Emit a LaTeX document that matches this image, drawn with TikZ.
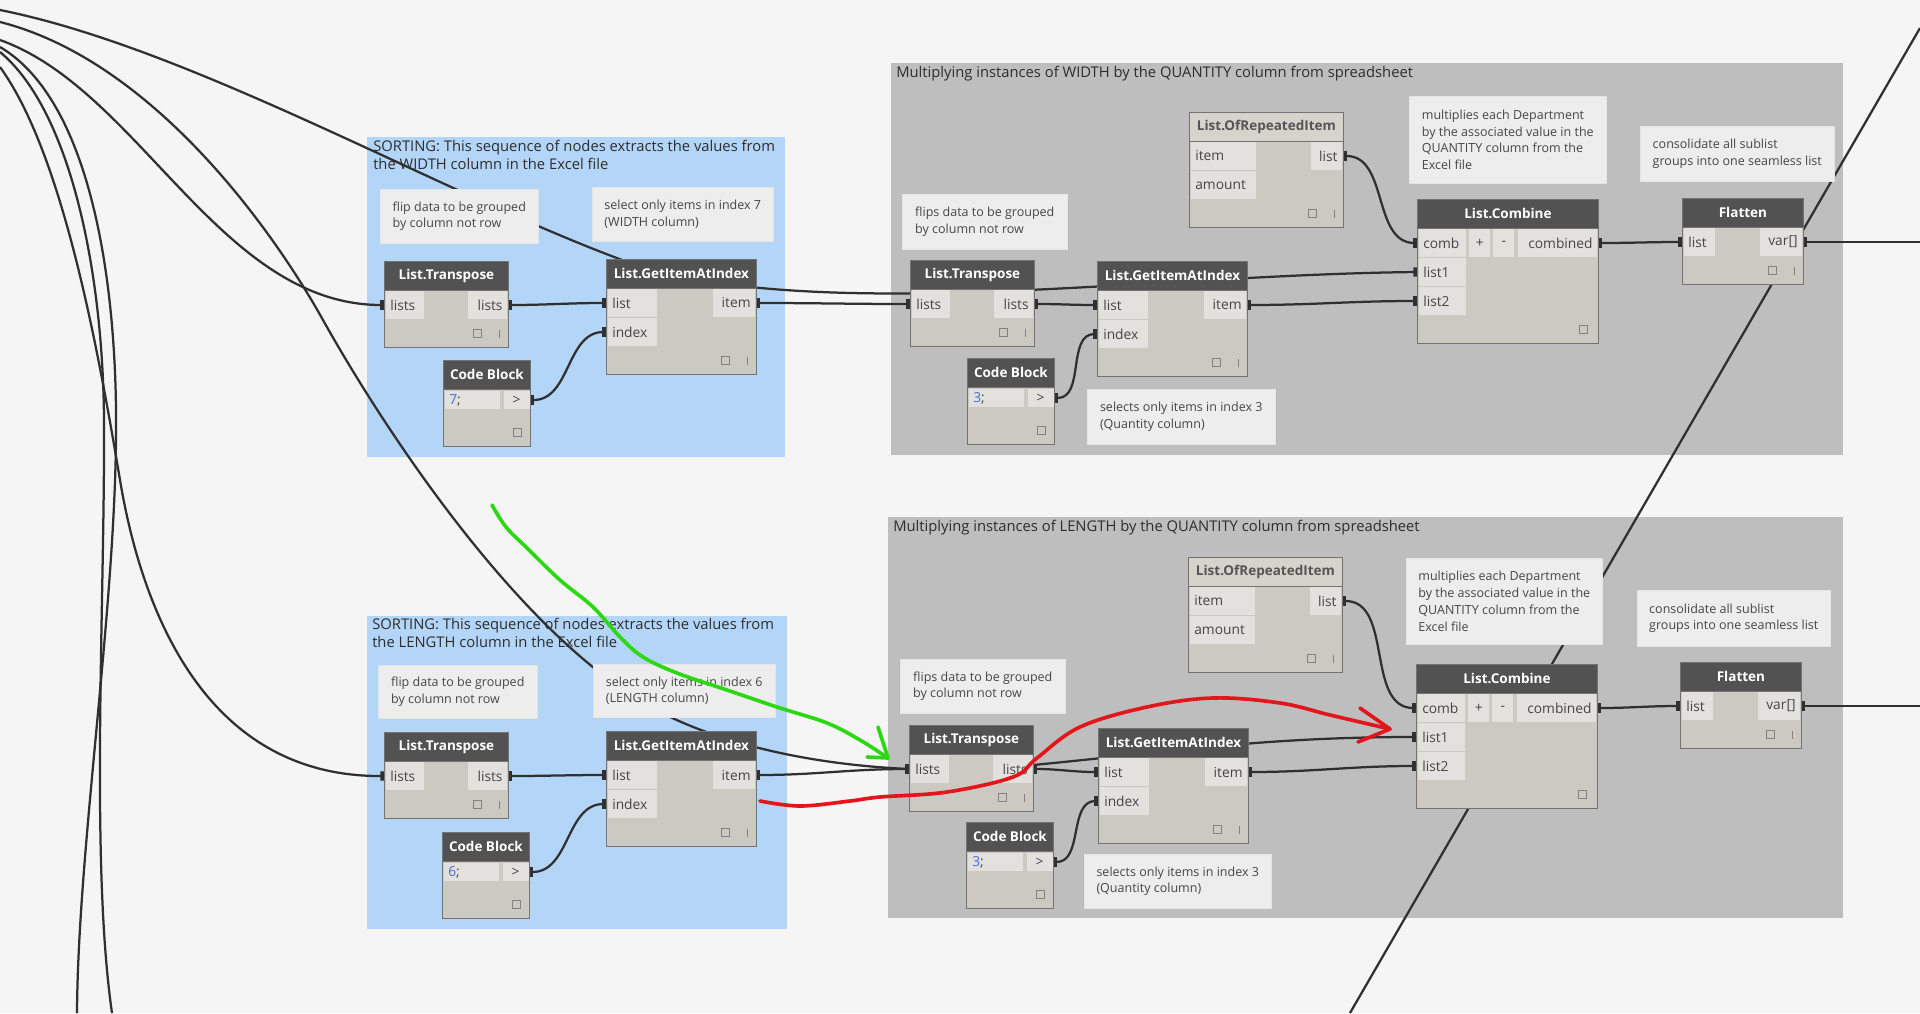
\documentclass[tikz,border=0pt]{standalone}
\usepackage{fontspec}
\setmainfont{Open Sans}
\usetikzlibrary{arrows.meta, positioning}

\definecolor{canvas}{RGB}{245,245,245}
\definecolor{grpblue}{RGB}{179,213,247}
\definecolor{grpgray}{RGB}{190,190,190}
\definecolor{notefill}{RGB}{237,237,237}
\definecolor{headdark}{RGB}{82,82,82}
\definecolor{headlight}{RGB}{214,211,205}
\definecolor{headtxt}{RGB}{85,85,85}
\definecolor{bodyfill}{RGB}{204,201,195}
\definecolor{portfill}{RGB}{227,225,221}
\definecolor{nodeline}{RGB}{115,115,115}
\definecolor{iconc}{RGB}{130,130,130}
\definecolor{wirec}{RGB}{48,48,48}
\definecolor{txtc}{RGB}{70,70,70}
\definecolor{titlec}{RGB}{45,45,45}
\definecolor{codeblue}{RGB}{70,110,215}
\definecolor{markgreen}{RGB}{45,215,20}
\definecolor{markred}{RGB}{228,22,28}

\newlength\pxl
\setlength\pxl{0.025cm}

\newcommand{\titlefont}{\fontsize{10.5}{12.8}\selectfont}
\newcommand{\notefont}{\fontsize{8.9}{11.9}\selectfont}
\newcommand{\headfont}{\fontsize{9.6}{11}\selectfont\bfseries}
\newcommand{\portfont}{\fontsize{9.8}{11}\selectfont}

\pgfdeclarelayer{bg}
\pgfdeclarelayer{wires}
\pgfsetlayers{bg,wires,main}

\tikzset{port/.tip={Rectangle[length=0.9mm, width=2.3mm]}}

% node body with its title bar: [head style] name, x, y, width, height, title
\newcommand{\dnode}[7][dhead]{%
  \node[dbody, minimum width=#5*\pxl, minimum height=#6*\pxl] (#2) at (#3,#4) {};
  \node[#1, minimum width=#5*\pxl] (#2-head) at (#3,#4) {#7};}

% ports: node, port, row, box width, label
\newcommand{\din}[5]{%
  \node[dport, anchor=west] (#1-#2) at ([shift={(2,{15+29*#3})}]#1.north west)
    {\makebox[\dimexpr#4\pxl-8\pxl\relax][l]{#5}};
  \coordinate (#1-#2-p) at ([shift={(0,{15+29*#3})}]#1.north west);}
\newcommand{\dout}[5]{%
  \node[dport, anchor=east] (#1-#2) at ([shift={(-2,{15+29*#3})}]#1.north east)
    {\makebox[\dimexpr#4\pxl-8\pxl\relax][r]{#5}};
  \coordinate (#1-#2-p) at ([shift={(0,{15+29*#3})}]#1.north east);}

% footer icons
\newcommand{\dicons}[1]{%
  \node[dsq] at ([shift={(-31,-14)}]#1.south east) {};
  \draw[dicon] ([shift={(-9,-18)}]#1.south east) -- ([shift={(-9,-10)}]#1.south east);}

\newcommand{\dtranspose}[3]{%
  \dnode{#1}{#2}{#3}{124}{86}{List.Transpose}
  \din{#1}{i1}{1}{38}{lists}
  \dout{#1}{o1}{1}{39}{lists}
  \dicons{#1}}

\newcommand{\dgetitem}[3]{%
  \dnode{#1}{#2}{#3}{150}{115}{List.GetItemAtIndex}
  \din{#1}{i1}{1}{49}{list}
  \din{#1}{i2}{2}{49}{index}
  \dout{#1}{o1}{1}{42}{item}
  \dicons{#1}}

\newcommand{\drepeat}[3]{%
  \dnode[dheadpale]{#1}{#2}{#3}{154}{115}{List.OfRepeatedItem}
  \din{#1}{i1}{1}{65}{item}
  \din{#1}{i2}{2}{65}{amount}
  \dout{#1}{o1}{1}{31}{list}
  \dicons{#1}}

\newcommand{\dcombine}[3]{%
  \dnode{#1}{#2}{#3}{181}{144}{List.Combine}
  \din{#1}{i1}{1}{47}{comb}
  \din{#1}{i2}{2}{47}{list1}
  \din{#1}{i3}{3}{47}{list2}
  \node[dport, anchor=west] at ([shift={(52,44)}]#1.north west) {\makebox[13\pxl]{+}};
  \node[dport, anchor=west] at ([shift={(76,44)}]#1.north west) {\makebox[13\pxl]{-}};
  \dout{#1}{o1}{1}{79}{combined}
  \node[dsq] at ([shift={(-15,-14)}]#1.south east) {};}

\newcommand{\dflatten}[3]{%
  \dnode{#1}{#2}{#3}{121}{86}{Flatten}
  \din{#1}{i1}{1}{31}{list}
  \dout{#1}{o1}{1}{42}{var[]}
  \dicons{#1}}

\newcommand{\dcode}[4]{%
  \dnode{#1}{#2}{#3}{87}{86}{Code Block}
  \node[dcodeval, anchor=west] (#1-val) at ([shift={(2,40)}]#1.north west)
    {\makebox[47\pxl][l]{\textcolor{codeblue}{#4};}};
  \node[dcodeval, anchor=east] (#1-gt) at ([shift={(-1,40)}]#1.north east)
    {\makebox[18\pxl]{>}};
  \coordinate (#1-o1-p) at ([shift={(0,40)}]#1.north east);
  \node[dsq] at ([shift={(-13,-14)}]#1.south east) {};}

\begin{document}
\begin{tikzpicture}[
  x=0.025cm, y=-0.025cm,
  dgroup/.style={anchor=north west, inner sep=0pt},
  gtitle/.style={anchor=north west, inner sep=0pt, align=left, font=\titlefont, text=titlec},
  dnote/.style={anchor=north west, inner sep=0pt, fill=notefill, draw=black!10, align=left, font=\notefont, text=txtc},
  dbody/.style={anchor=north west, inner sep=0pt, fill=bodyfill, draw=nodeline, line width=0.6pt},
  dhead/.style={anchor=north west, inner sep=0pt, minimum height=29*\pxl, fill=headdark, draw=nodeline, line width=0.6pt, text=white, font=\headfont},
  dheadpale/.style={dhead, fill=headlight, text=headtxt},
  dport/.style={inner xsep=4*\pxl, inner ysep=0pt, minimum height=28*\pxl, fill=portfill, text=txtc, font=\portfont},
  dcodeval/.style={dport, minimum height=18*\pxl},
  dsq/.style={draw=iconc, line width=0.7pt, minimum size=8*\pxl, inner sep=0pt},
  dicon/.style={draw=iconc, line width=0.9pt},
  wire/.style={draw=wirec, line width=1.6pt, port-port},
  wirein/.style={draw=wirec, line width=1.6pt, -port},
  wireout/.style={draw=wirec, line width=1.6pt, port-},
  wireline/.style={draw=wirec, line width=1.6pt},
  penmark/.style={line width=2.6pt, line cap=round, line join=round}
]
\useasboundingbox (0,0) rectangle (1920,1013);

% canvas and groups
\begin{pgfonlayer}{bg}
  \fill[canvas] (0,0) rectangle (1920,1013);
  \node[dgroup, fill=grpblue, minimum width=418*\pxl, minimum height=320*\pxl] (g-wsort) at (367,137) {};
  \node[dgroup, fill=grpgray, minimum width=952*\pxl, minimum height=392*\pxl] (g-qw) at (891,63) {};
  \node[dgroup, fill=grpblue, minimum width=420*\pxl, minimum height=313*\pxl] (g-lsort) at (367,616) {};
  \node[dgroup, fill=grpgray, minimum width=955*\pxl, minimum height=401*\pxl] (g-ql) at (888,517) {};
  \node[gtitle] at ([shift={(6,3)}]g-wsort.north west) {SORTING: This sequence of nodes extracts the values from\\the WIDTH column in the Excel file};
  \node[gtitle] at ([shift={(5,3)}]g-qw.north west) {Multiplying instances of WIDTH by the QUANTITY column from spreadsheet};
  \node[gtitle] at ([shift={(5,2)}]g-lsort.north west) {SORTING: This sequence of nodes extracts the values from\\the LENGTH column in the Excel file};
  \node[gtitle] at ([shift={(5,3)}]g-ql.north west) {Multiplying instances of LENGTH by the QUANTITY column from spreadsheet};
\end{pgfonlayer}

% notes
\node[dnote, minimum width=158*\pxl, minimum height=54*\pxl] (n-wflip) at (380,189) {flip data to be grouped\\by column not row};
\node[dnote, minimum width=181*\pxl, minimum height=54*\pxl] (n-wsel) at (592,187) {select only items in index 7\\(WIDTH column)};
\node[dnote, minimum width=165*\pxl, minimum height=55*\pxl] (n-qwflip) at (902,194) {flips data to be grouped\\by column not row};
\node[dnote, minimum width=188*\pxl, minimum height=55*\pxl] (n-qwsel) at (1087,389) {selects only items in index 3\\(Quantity column)};
\node[dnote, minimum width=197*\pxl, minimum height=87*\pxl] (n-qwmul) at (1409,96) {multiplies each Department\\by the associated value in the\\QUANTITY column from the\\Excel file};
\node[dnote, minimum width=194*\pxl, minimum height=55*\pxl] (n-qwcons) at (1640,126) {consolidate all sublist\\groups into one seamless list};
\node[dnote, minimum width=159*\pxl, minimum height=53*\pxl] (n-lflip) at (378,665) {flip data to be grouped\\by column not row};
\node[dnote, minimum width=182*\pxl, minimum height=53*\pxl] (n-lsel) at (593,664) {select only items in index 6\\(LENGTH column)};
\node[dnote, minimum width=165*\pxl, minimum height=54*\pxl] (n-qlflip) at (900,659) {flips data to be grouped\\by column not row};
\node[dnote, minimum width=187*\pxl, minimum height=54*\pxl] (n-qlsel) at (1084,854) {selects only items in index 3\\(Quantity column)};
\node[dnote, minimum width=196*\pxl, minimum height=86*\pxl] (n-qlmul) at (1406,558) {multiplies each Department\\by the associated value in the\\QUANTITY column from the\\Excel file};
\node[dnote, minimum width=193*\pxl, minimum height=56*\pxl] (n-qlcons) at (1637,590) {consolidate all sublist\\groups into one seamless list};

% WIDTH row
\dtranspose{ws-tr}{384}{261}
\dcode{ws-cb}{443}{360}{7}
\dgetitem{ws-gi}{606}{259}
\dtranspose{qw-tr}{910}{260}
\dcode{qw-cb}{967}{358}{3}
\dgetitem{qw-gi}{1097}{261}
\drepeat{qw-rep}{1189}{112}
\dcombine{qw-cmb}{1417}{199}
\dflatten{qw-fl}{1682}{198}

% LENGTH row
\dtranspose{ls-tr}{384}{732}
\dcode{ls-cb}{442}{832}{6}
\dgetitem{ls-gi}{606}{731}
\dtranspose{ql-tr}{909}{725}
\dcode{ql-cb}{966}{822}{3}
\dgetitem{ql-gi}{1098}{728}
\drepeat{ql-rep}{1188}{557}
\dcombine{ql-cmb}{1416}{664}
\dflatten{ql-fl}{1680}{662}

% loose wire ends at the canvas border
\coordinate (src-w1) at (0,10);
\coordinate (src-w2) at (0,22);
\coordinate (src-wt) at (0,40);
\coordinate (src-v2) at (0,47);
\coordinate (src-v1) at (0,52);
\coordinate (src-wc) at (0,67);
\coordinate (bot-v1) at (112,1013);
\coordinate (bot-v2) at (77,1013);
\coordinate (edge-qw) at (1920,242);
\coordinate (edge-ql) at (1920,706);
\coordinate (dg-top) at (1920,28);
\coordinate (dg-bot) at (1350,1013);

\begin{pgfonlayer}{wires}
  % from the left
  \draw[wirein] (src-w1) .. controls (200,50) and (460,205) .. (650,270)
    .. controls (850,320) and (1150,275) .. (qw-cmb-i2-p);
  \draw[wirein] (src-w2) .. controls (150,60) and (270,225) .. (323,320)
    .. controls (380,422) and (520,640) .. (660,712)
    .. controls (760,763) and (900,775) .. (1000,768)
    .. controls (1150,755) and (1250,737) .. (ql-cmb-i2-p);
  \draw[wirein] (src-wt) .. controls (140,90) and (220,305) .. (ws-tr-i1-p);
  \draw[wirein] (src-wc) .. controls (60,150) and (95,330) .. (120,480)
    .. controls (140,600) and (200,777) .. (ls-tr-i1-p);
  \draw[wireline] (src-v2) .. controls (90,100) and (118,280) .. (116,440)
    .. controls (114,620) and (78,850) .. (bot-v2);
  \draw[wireline] (src-v1) .. controls (70,110) and (103,270) .. (104,420)
    .. controls (105,600) and (90,860) .. (bot-v1);
  \draw[wireline] (dg-top) -- (dg-bot);

  % WIDTH row
  \draw[wire] (ws-tr-o1-p) to[out=0, in=180] (ws-gi-i1-p);
  \draw[wire] (ws-cb-o1-p) to[out=0, in=180] (ws-gi-i2-p);
  \draw[wire] (ws-gi-o1-p) to[out=0, in=180] (qw-tr-i1-p);
  \draw[wire] (qw-tr-o1-p) to[out=0, in=180] (qw-gi-i1-p);
  \draw[wire] (qw-cb-o1-p) to[out=0, in=180] (qw-gi-i2-p);
  \draw[wire] (qw-gi-o1-p) to[out=0, in=180] (qw-cmb-i3-p);
  \draw[wire] (qw-rep-o1-p) to[out=0, in=180] (qw-cmb-i1-p);
  \draw[wire] (qw-cmb-o1-p) to[out=0, in=180] (qw-fl-i1-p);
  \draw[wireout] (qw-fl-o1-p) -- (edge-qw);

  % LENGTH row
  \draw[wire] (ls-tr-o1-p) to[out=0, in=180] (ls-gi-i1-p);
  \draw[wire] (ls-cb-o1-p) to[out=0, in=180] (ls-gi-i2-p);
  \draw[wire] (ls-gi-o1-p) to[out=0, in=180] (ql-tr-i1-p);
  \draw[wire] (ql-tr-o1-p) to[out=0, in=180] (ql-gi-i1-p);
  \draw[wire] (ql-cb-o1-p) to[out=0, in=180] (ql-gi-i2-p);
  \draw[wire] (ql-gi-o1-p) to[out=0, in=180] (ql-cmb-i3-p);
  \draw[wire] (ql-rep-o1-p) to[out=0, in=180] (ql-cmb-i1-p);
  \draw[wire] (ql-cmb-o1-p) to[out=0, in=180] (ql-fl-i1-p);
  \draw[wireout] (ql-fl-o1-p) -- (edge-ql);
\end{pgfonlayer}

% hand-drawn marks
\draw[penmark, markgreen] plot[smooth, tension=0.6] coordinates {(492,505) (506,527) (527,548) (560,580) (593,607) (620,637) (643,657) (677,673) (727,690) (777,707) (827,723) (860,740) (888,758)};
\draw[penmark, markgreen] (878,727) -- (888,758) -- (867,757);
\draw[penmark, markred] plot[smooth, tension=0.6] coordinates {(760,801) (800,806) (850,801) (880,797) (947,792) (1013,777) (1037,758) (1080,727) (1147,707) (1213,698) (1280,703) (1330,715) (1390,729)};
\draw[penmark, markred] (1360,708) -- (1390,729) -- (1358,742);
\end{tikzpicture}
\end{document}
